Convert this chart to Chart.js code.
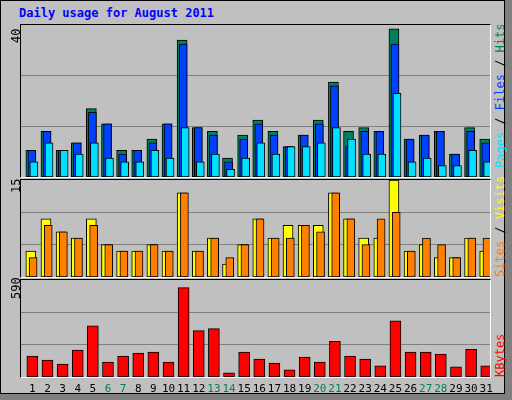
<!DOCTYPE html>
<html>
<head>
<meta charset="utf-8">
<script src="https://cdn.jsdelivr.net/npm/chart.js@4/dist/chart.umd.min.js"></script>
<style>
  body { margin: 0; width: 512px; height: 400px; background: #808080; overflow: hidden; font-family: "DejaVu Sans Mono", monospace; }
  #frame { position: absolute; left: 0; top: 0; width: 503px; height: 392px; background: #C0C0C0; border: 1px solid #000; }
  #title { position: absolute; left: 19px; top: 6px; color: #0000FF; font-weight: bold; font-size: 12px; }
  .panel { position: absolute; left: 20px; width: 471px; border: 1px solid; border-color: #000 #fff #fff #000; box-sizing: border-box; }
  .panel canvas { position: absolute; left: 0; top: 0; }
  .rot { position: absolute; transform: rotate(-90deg); transform-origin: left top; white-space: nowrap; font-size: 12px; }
  .day { position: absolute; top: 382px; font-size: 11px; transform: translateX(-50%); }
</style>
</head>
<body>
<div id="frame"></div>
<div id="title">Daily usage for August 2011</div>
<div class="panel" style="top:24px;height:154px"><canvas id="c1"></canvas></div>
<div class="panel" style="top:179px;height:99px"><canvas id="c2"></canvas></div>
<div class="panel" style="top:279px;height:99px"><canvas id="c3"></canvas></div>
<div class="rot" style="left:9px;top:43px">40</div>
<div class="rot" style="left:9px;top:193px">15</div>
<div class="rot" style="left:9px;top:299px">590</div>
<div class="rot" style="left:493px;top:168px"><span style="color:#00E0FF">Pages</span> / <span style="color:#0040FF">Files</span> / <span style="color:#00805C">Hits</span></div>
<div class="rot" style="left:493px;top:277px"><span style="color:#FF8000">Sites</span> / <span style="color:#FFFF00">Visits</span></div>
<div class="rot" style="left:493px;top:377px"><span style="color:#FF0000">KBytes</span></div>
<div id="days"></div>
<script>
const days = ['1','2','3','4','5','6','7','8','9','10','11','12','13','14','15','16','17','18','19','20','21','22','23','24','25','26','27','28','29','30','31'];
const weekend = [6, 7, 13, 14, 20, 21, 27, 28];
const hits   = [7,12,7,9,18,14,7,7,10,14,36,13,12,5,11,15,12,8,11,15,25,12,13,12,39,10,11,12,6,13,10];
const files  = [7,12,7,9,17,14,6,7,9,14,35,13,11,4,10,14,11,8,11,14,24,8,12,12,35,10,11,12,6,12,9];
const pages  = [4,9,7,6,9,5,4,4,7,5,13,4,6,2,5,9,6,8,8,9,13,10,6,6,22,4,5,3,3,7,4];
const visits = [4,9,7,6,9,5,4,4,5,4,13,4,6,2,5,9,6,8,8,8,13,9,6,6,15,4,5,3,3,6,4];
const sites  = [3,8,7,6,8,5,4,4,5,4,13,4,6,3,5,9,6,6,8,7,13,9,5,9,10,4,6,5,3,6,6];
const kbytes = [127,103,79,163,312,91,127,145,151,91,544,282,294,26,151,109,85,44,121,91,217,127,109,68,342,151,151,139,62,169,68];

function pts(values, shift) {
  return values.map((v, i) => ({ x: i + 1 + shift, y: v }));
}

function ds(values, shift, color, width, order) {
  return {
    data: pts(values, shift), backgroundColor: color, borderColor: '#000',
    borderWidth: 1, borderSkipped: false, barThickness: width, order: order, grouped: false
  };
}

function makeChart(id, w, h, datasets, max) {
  const cv = document.getElementById(id);
  cv.width = w; cv.height = h;
  return new Chart(cv, {
    type: 'bar',
    data: { datasets: datasets },
    options: {
      responsive: false, animation: false, devicePixelRatio: 1,
      layout: { padding: 0 },
      plugins: { legend: { display: false }, tooltip: { enabled: false } },
      scales: {
        x: { type: 'linear', min: 0.5, max: 31.5, offset: false, display: false },
        y: {
          min: 0, max: max,
          afterBuildTicks: s => { s.ticks = [1, 2].map(k => ({ value: max * k / 3 })); },
          ticks: { display: false },
          border: { display: false },
          grid: { color: '#808080', lineWidth: 1, drawTicks: false }
        }
      }
    }
  });
}

makeChart('c1', 469, 152, [
  ds(hits, 0.15, '#00805C', 10, 3),
  ds(files, 0.22, '#0040FF', 8, 2),
  ds(pages, 0.35, '#00E0FF', 8, 1)
], 40);
makeChart('c2', 469, 97, [
  ds(visits, 0.15, '#FFFF00', 10, 2),
  ds(sites, 0.3, '#FF8000', 8, 1)
], 15);
const c3 = makeChart('c3', 469, 97, [
  ds(kbytes, 0.25, '#FF0000', 11, 1)
], 590);

const box = document.getElementById('days');
days.forEach((d, i) => {
  const el = document.createElement('div');
  el.className = 'day';
  el.textContent = d;
  el.style.left = (21 + c3.scales.x.getPixelForValue(i + 1 + 0.25)) + 'px';
  el.style.color = weekend.includes(i + 1) ? '#00805C' : '#000';
  box.appendChild(el);
});
</script>
</body>
</html>
